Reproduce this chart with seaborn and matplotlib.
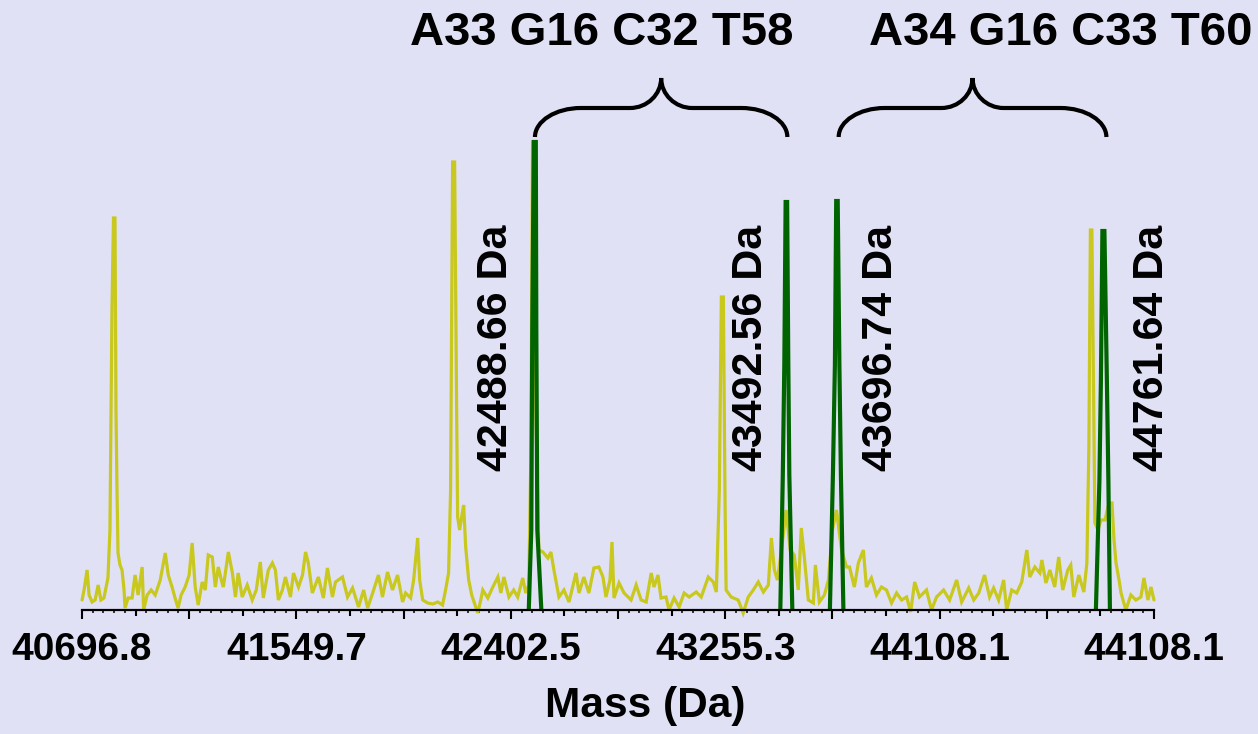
import matplotlib
matplotlib.use("Agg")
import matplotlib.pyplot as plt
import numpy as np
import pandas as pd
import seaborn as sns
from matplotlib.path import Path
from matplotlib.patches import PathPatch

# ======================
# 1. data (mass in Da, intensity in arbitrary units)
# ======================
trace_mass = [
    40697, 40705, 40717, 40725, 40737, 40749, 40761, 40772, 40784, 40800,
    40808, 40816, 40822, 40828, 40832, 40836, 40840, 40848, 40856, 40864,
    40868, 40880, 40896, 40908, 40920, 40936, 40942, 40956, 40972, 40988,
    41008, 41028, 41040, 41055, 41067, 41079, 41091, 41107, 41123, 41135,
    41147, 41159, 41175, 41187, 41199, 41215, 41227, 41239, 41251, 41259,
    41279, 41295, 41307, 41318, 41334, 41354, 41374, 41390, 41406, 41418,
    41438, 41454, 41466, 41478, 41494, 41506, 41526, 41538, 41558, 41574,
    41586, 41597, 41613, 41637, 41657, 41673, 41693, 41705, 41733, 41753,
    41773, 41797, 41817, 41833, 41853, 41876, 41892, 41912, 41932, 41952,
    41972, 41984, 42004, 42016, 42032, 42040, 42052, 42072, 42092, 42112,
    42131, 42143, 42155, 42163, 42171, 42179, 42187, 42191, 42199, 42207,
    42215, 42223, 42235, 42247, 42263, 42271, 42283, 42291, 42311, 42331,
    42351, 42363, 42375, 42395, 42414, 42430, 42450, 42462, 42474, 42482,
    42489, 42494, 42502, 42514, 42530, 42550, 42562, 42574, 42594, 42614,
    42634, 42662, 42674, 42693, 42713, 42733, 42753, 42769, 42781, 42797,
    42805, 42813, 42833, 42853, 42881, 42901, 42921, 42941, 42961, 42972,
    42988, 43000, 43020, 43032, 43052, 43072, 43092, 43112, 43140, 43160,
    43188, 43208, 43220, 43232, 43240, 43248, 43255, 43259, 43279, 43307,
    43327, 43347, 43367, 43387, 43407, 43427, 43439, 43451, 43463, 43479,
    43498, 43514, 43530, 43546, 43558, 43570, 43586, 43606, 43614, 43630,
    43650, 43666, 43682, 43698, 43718, 43738, 43750, 43769, 43785, 43805,
    43817, 43837, 43857, 43877, 43897, 43917, 43937, 43957, 43977, 43993,
    44009, 44028, 44056, 44076, 44096, 44124, 44148, 44176, 44196, 44224,
    44244, 44264, 44287, 44307, 44323, 44343, 44363, 44375, 44395, 44415,
    44435, 44455, 44467, 44487, 44507, 44515, 44531, 44547, 44566, 44582,
    44598, 44618, 44630, 44642, 44662, 44682, 44694, 44702, 44708, 44714,
    44726, 44738, 44750, 44766, 44782, 44794, 44802, 44810, 44822, 44830,
    44841, 44849, 44869, 44889, 44909, 44921, 44937, 44949, 44961,
]
trace_int = [
    10, 20, 40, 15, 8, 10, 25, 10, 12, 32,
    80, 300, 392, 392, 200, 120, 57, 45, 40, 20,
    2, 12, 12, 35, 15, 43, 0, 15, 20, 15,
    30, 57, 35, 23, 12, 2, 15, 23, 35, 67,
    23, 5, 28, 20, 55, 53, 23, 43, 30, 23,
    58, 37, 13, 37, 13, 25, 10, 20, 48, 12,
    40, 47, 40, 10, 20, 33, 13, 37, 23, 35,
    58, 47, 17, 33, 12, 42, 13, 28, 33, 13,
    22, 3, 20, 2, 17, 35, 13, 38, 20, 35,
    8, 17, 12, 30, 72, 30, 10, 7, 6, 8,
    5, 20, 37, 120, 448, 448, 200, 93, 80, 93,
    105, 63, 30, 15, 3, -3, 10, 20, 12, 23,
    33, 17, 33, 13, 20, 13, 32, 17, 25, 150,
    468, 468, 200, 60, 58, 52, 58, 40, 13, 20,
    8, 37, 17, 33, 17, 42, 43, 33, 13, 30,
    68, 12, 27, 17, 10, 25, 10, 8, 37, 23,
    35, 12, 13, 0, 12, 3, 17, 13, 18, 13,
    33, 28, 18, 120, 313, 313, 100, 20, 13, 10,
    -3, 13, 20, 28, 18, 25, 72, 40, 30, 60,
    100, 60, 55, 20, 82, 53, 10, 7, 45, 8,
    15, 30, 80, 100, 60, 43, 43, 23, 47, 60,
    23, 32, 15, 23, 20, 7, 17, 10, 13, -2,
    28, 13, 20, 0, 13, 20, 10, 30, 8, 22,
    10, 17, 35, 13, 22, 10, 30, 0, 20, 17,
    28, 60, 33, 43, 37, 50, 27, 40, 23, 53,
    20, 40, 45, 13, 35, 18, 47, 163, 380, 380,
    87, 80, 90, 90, 107, 107, 70, 47, 30, 17,
    7, 0, 15, 10, 13, 32, 10, 23, 10,
]

# fitted (green) peaks
peak_labels = ["42488.66 Da", "43492.56 Da", "43696.74 Da", "44761.64 Da"]
peak_centres = [42488.66, 43492.56, 43696.74, 44761.64]
peak1_mass = [42474, 42484, 42488, 42494, 42502, 42504, 42508, 42524]
peak1_int = [0, 80, 280, 468, 468, 280, 80, 0]
peak2_mass = [43474.6, 43484.5, 43490.5, 43495.7, 43501.7, 43506.4, 43510.4, 43522.4]
peak2_int = [0, 135, 245, 408, 408, 245, 135, 0]
peak3_mass = [43671.8, 43683.8, 43691.7, 43696.9, 43702.9, 43709.6, 43715.6, 43725.5]
peak3_int = [0, 135, 245, 409, 409, 245, 135, 0]
peak4_mass = [44729.9, 44743.8, 44749.8, 44755.8, 44763.8, 44773.7, 44779.7, 44785.7]
peak4_int = [0, 128, 228, 379, 379, 228, 128, 0]

compositions = ["A33 G16 C32 T58", "A34 G16 C33 T60"]
tick_labels = ["40696.8", "41549.7", "42402.5", "43255.3", "44108.1", "44108.1"]

# ======================
# 2. style
# ======================
BG = "#E1E1F5"
YELLOW = "#C8C81E"
GREEN = "#006400"

sns.set_theme(style="white", rc={"axes.facecolor": BG, "figure.facecolor": BG})
plt.rcParams["font.family"] = ["Liberation Sans", "DejaVu Sans"]
plt.rcParams["font.weight"] = "bold"

fig = plt.figure(figsize=(12.58, 7.34), dpi=100)
ax = fig.add_axes([82 / 1258, 124 / 734, 1072 / 1258, 610 / 734])

x_start = 40696.8
label_step = 852.85
x_end = x_start + 5 * label_step

# ======================
# 3. lines
# ======================
trace_df = pd.DataFrame({"mass": trace_mass, "intensity": trace_int})
sns.lineplot(data=trace_df, x="mass", y="intensity", sort=False, estimator=None,
             color=YELLOW, linewidth=2.3, ax=ax)
ax.lines[-1].set_clip_on(False)

peaks_df = pd.concat([
    pd.DataFrame({"mass": m, "intensity": v, "peak": i})
    for i, (m, v) in enumerate([(peak1_mass, peak1_int), (peak2_mass, peak2_int),
                                (peak3_mass, peak3_int), (peak4_mass, peak4_int)])
])
sns.lineplot(data=peaks_df, x="mass", y="intensity", units="peak", estimator=None,
             sort=False, color=GREEN, linewidth=3.0, ax=ax, legend=False)
for ln in ax.lines:
    ln.set_solid_joinstyle("miter")

# ======================
# 4. axes, ticks
# ======================
ax.set_xlim(x_start, x_end)
ax.set_ylim(0, 610)
for side in ["left", "top", "right"]:
    ax.spines[side].set_visible(False)
ax.spines["bottom"].set_color("black")
ax.spines["bottom"].set_linewidth(1.6)
ax.set_yticks([])
ax.set_ylabel("")

major_locs = np.linspace(x_start, x_end, 21)
minor_locs = np.linspace(x_start, x_end, 101)
ax.set_xticks(major_locs)
ax.set_xticklabels([tick_labels[i // 4] if i % 4 == 0 else "" for i in range(21)])
ax.set_xticks(minor_locs, minor=True)
ax.tick_params(axis="x", which="major", bottom=True, direction="out", length=6.5,
               width=1.5, color="black", pad=9, labelsize=28, labelcolor="black")
ax.tick_params(axis="x", which="minor", bottom=True, direction="out", length=2.5,
               width=1.1, color="black")
for i, tick in enumerate(ax.xaxis.get_major_ticks()):
    if i % 2 == 1:
        tick.tick1line.set_markersize(4.3)

ax.set_xlabel("Mass (Da)", fontsize=30.5, fontweight="bold", color="black")
ax.xaxis.set_label_coords(0.525, -0.124)

# ======================
# 5. peak labels, braces, compositions
# ======================
label_offsets = [-26, -24, 32, 35]
for mass, text, dx in zip(peak_centres, peak_labels, label_offsets):
    ax.annotate(text, xy=(mass, 262), xytext=(dx, 0), textcoords="offset points",
                rotation=90, ha="center", va="center", fontsize=31,
                fontweight="bold", color="black")


def draw_brace(x0, x1, y_end=473, y_bar=502, y_tip=532, rx=183, rc=124):
    xm = (x0 + x1) / 2
    k = 0.55
    verts = [
        (x0, y_end),
        (x0, y_end + k * (y_bar - y_end)), (x0 + (1 - k) * rx, y_bar), (x0 + rx, y_bar),
        (xm - rc, y_bar),
        (xm - rc + k * rc, y_bar), (xm, y_tip - k * (y_tip - y_bar)), (xm, y_tip),
        (xm, y_tip - k * (y_tip - y_bar)), (xm + rc - k * rc, y_bar), (xm + rc, y_bar),
        (x1 - rx, y_bar),
        (x1 - (1 - k) * rx, y_bar), (x1, y_end + k * (y_bar - y_end)), (x1, y_end),
    ]
    codes = [Path.MOVETO] + [Path.CURVE4] * 3 + [Path.LINETO] + [Path.CURVE4] * 6 \
        + [Path.LINETO] + [Path.CURVE4] * 3
    ax.add_patch(PathPatch(Path(verts, codes), fill=False, lw=3, color="black",
                           capstyle="butt", clip_on=False))


draw_brace(peak_centres[0] + 10, peak_centres[1] + 10)
draw_brace(peak_centres[2] + 10, peak_centres[3] + 10)

header_x = [42765, 44590]
for xh, text in zip(header_x, compositions):
    ax.text(xh, 565, text, ha="center", va="baseline", fontsize=34,
            fontweight="bold", color="black")

fig.savefig("out.png", dpi=100, facecolor=BG)
